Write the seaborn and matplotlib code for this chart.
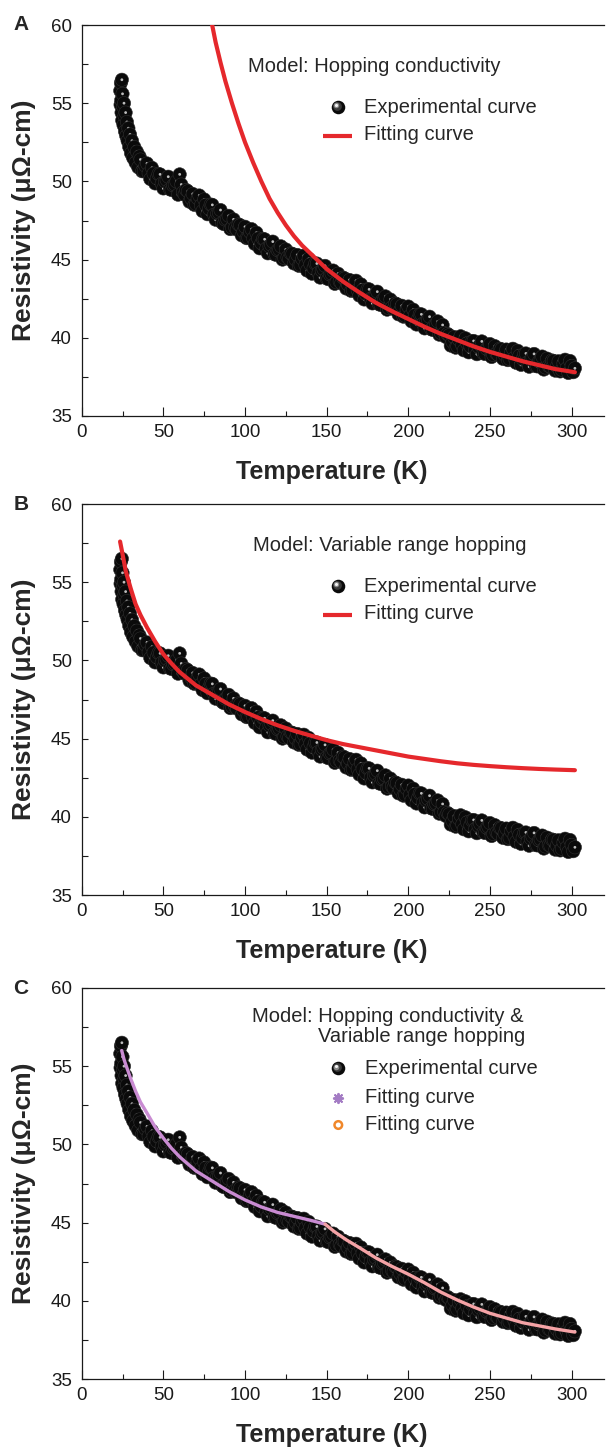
import numpy as np
import pandas as pd
import matplotlib
matplotlib.use("Agg")
import matplotlib.pyplot as plt
import seaborn as sns
from matplotlib.ticker import MultipleLocator
from matplotlib.transforms import offset_copy

# ---------------- data ----------------
# experimental points, steep low-temperature part
temp_exp_low = [23.6, 23.8, 24.0, 24.2, 24.4, 24.6, 24.8, 25.0, 25.3, 25.6, 25.9, 26.2,
                26.5, 26.9, 27.3, 27.7, 28.1, 28.6, 29.1, 29.6, 30.2, 30.8, 31.5, 32.2,
                33.0, 33.8, 34.6, 35.4]
res_exp_low = [55.8, 54.9, 56.3, 55.2, 54.4, 56.5, 53.9, 55.6, 54.8, 53.6, 55.0, 54.2,
               53.2, 54.4, 52.9, 53.8, 52.6, 53.4, 52.2, 53.0, 51.8, 52.6, 51.5, 52.2,
               51.2, 51.9, 50.9, 51.6]
# experimental points, even temperatures
temp_exp_even = [36, 38, 40, 42, 44, 46, 48, 50, 52, 54, 56, 58, 60, 62, 64, 66, 68, 70,
                 72, 74, 76, 78, 80, 82, 84, 86, 88, 90, 92, 94, 96, 98, 100, 102, 104,
                 106, 108, 110, 112, 114, 116, 118, 120, 122, 124, 126, 128, 130, 132,
                 134, 136, 138, 140, 142, 144, 146, 148, 150, 152, 154, 156, 158, 160,
                 162, 164, 166, 168, 170, 172, 174, 176, 178, 180, 182, 184, 186, 188,
                 190, 192, 194, 196, 198, 200, 202, 204, 206, 208, 210, 212, 214, 216,
                 218, 220, 222, 224, 226, 228, 230, 232, 234, 236, 238, 240, 242, 244,
                 246, 248, 250, 252, 254, 256, 258, 260, 262, 264, 266, 268, 270, 272,
                 274, 276, 278, 280, 282, 284, 286, 288, 290, 292, 294, 296, 298, 300,
                 302]
res_exp_even = [51.40, 50.65, 51.15, 50.15, 50.50, 50.20, 50.45, 49.55, 50.10, 49.50,
                49.75, 50.00, 50.45, 49.30, 49.45, 48.70, 49.20, 48.55, 49.10, 48.10,
                48.50, 48.25, 48.50, 47.55, 48.00, 47.35, 47.55, 47.80, 47.05, 47.05,
                47.25, 46.55, 47.10, 46.40, 46.95, 46.00, 46.35, 46.05, 46.30, 45.40,
                45.95, 45.35, 45.60, 45.85, 45.10, 45.15, 45.40, 44.75, 45.30, 44.65,
                45.25, 44.30, 44.70, 44.45, 44.75, 43.85, 44.40, 43.80, 44.05, 44.30,
                43.55, 43.60, 43.85, 43.15, 43.70, 43.05, 43.65, 42.70, 43.05, 42.80,
                43.10, 42.20, 42.75, 42.15, 42.40, 42.65, 41.90, 41.95, 42.20, 41.50,
                42.05, 41.40, 42.00, 41.05, 41.45, 41.20, 41.50, 40.60, 41.15, 40.55,
                40.80, 41.05, 40.30, 40.30, 40.25, 39.50, 40.05, 39.45, 40.10, 39.20,
                39.65, 39.45, 39.80, 38.95, 39.55, 39.00, 39.30, 39.60, 38.90, 39.00,
                39.30, 38.65, 39.25, 38.65, 39.30, 38.40, 38.85, 38.65, 39.00, 38.15,
                38.75, 38.20, 38.50, 38.80, 38.10, 38.20, 38.55, 37.90, 38.50, 37.95,
                38.60, 37.75, 38.20, 38.05]
# experimental points, odd temperatures
temp_exp_odd = [37, 39, 41, 43, 45, 47, 49, 51, 53, 55, 57, 59, 61, 63, 65, 67, 69, 71,
                73, 75, 77, 79, 81, 83, 85, 87, 89, 91, 93, 95, 97, 99, 101, 103, 105,
                107, 109, 111, 113, 115, 117, 119, 121, 123, 125, 127, 129, 131, 133,
                135, 137, 139, 141, 143, 145, 147, 149, 151, 153, 155, 157, 159, 161,
                163, 165, 167, 169, 171, 173, 175, 177, 179, 181, 183, 185, 187, 189,
                191, 193, 195, 197, 199, 201, 203, 205, 207, 209, 211, 213, 215, 217,
                219, 221, 223, 225, 227, 229, 231, 233, 235, 237, 239, 241, 243, 245,
                247, 249, 251, 253, 255, 257, 259, 261, 263, 265, 267, 269, 271, 273,
                275, 277, 279, 281, 283, 285, 287, 289, 291, 293, 295, 297, 299, 301]
res_exp_odd = [50.65, 51.00, 50.52, 50.87, 49.87, 50.47, 49.85, 50.00, 50.30, 49.45,
               49.80, 49.15, 49.80, 49.15, 49.37, 48.92, 48.50, 48.92, 48.47, 48.85,
               47.90, 48.52, 47.87, 47.95, 48.17, 47.27, 47.60, 46.95, 47.57, 46.92,
               47.20, 46.80, 46.37, 46.77, 46.35, 46.72, 45.72, 46.32, 45.70, 45.85,
               46.15, 45.30, 45.65, 45.00, 45.65, 45.05, 45.37, 45.00, 44.60, 45.05,
               44.65, 45.05, 44.10, 44.75, 44.15, 44.30, 44.60, 43.75, 44.10, 43.45,
               44.10, 43.50, 43.80, 43.40, 43.00, 43.45, 43.05, 43.42, 42.45, 43.10,
               42.50, 42.65, 42.95, 42.10, 42.45, 41.80, 42.45, 41.85, 42.15, 41.75,
               41.35, 41.80, 41.40, 41.80, 40.85, 41.50, 40.90, 41.05, 41.35, 40.50,
               40.85, 40.20, 40.82, 40.05, 40.17, 39.75, 39.37, 39.87, 39.52, 39.97,
               39.07, 39.77, 39.22, 39.42, 39.77, 38.97, 39.37, 38.77, 39.47, 38.92,
               39.27, 38.92, 38.57, 39.07, 38.72, 39.17, 38.27, 38.97, 38.42, 38.62,
               38.97, 38.17, 38.57, 37.97, 38.67, 38.15, 38.52, 38.17, 37.85, 38.37,
               38.05, 38.52, 37.80]

# Panel A: hopping conductivity fit
temp_fit_a = [79.5, 82, 85, 88, 92, 96, 100, 105, 110, 115, 120, 125, 130, 135, 140,
              145, 150, 160, 170, 180, 190, 200, 210, 220, 230, 240, 250, 260, 270,
              280, 290, 302]
res_fit_a = [60.2, 58.9, 57.6, 56.4, 55.0, 53.7, 52.5, 51.2, 50.0, 48.9, 48.0, 47.2,
             46.5, 45.9, 45.4, 44.9, 44.4, 43.6, 42.9, 42.25, 41.7, 41.2, 40.7, 40.25,
             39.85, 39.45, 39.1, 38.8, 38.5, 38.25, 38.0, 37.8]

# Panel B: variable range hopping fit
temp_fit_b = [23.5, 25, 27, 30, 33, 36, 40, 45, 50, 55, 60, 70, 80, 90, 100, 110, 120,
              130, 140, 150, 160, 170, 180, 190, 200, 210, 220, 230, 240, 250, 260,
              270, 280, 290, 302]
res_fit_b = [57.6, 56.8, 55.7, 54.6, 53.6, 52.9, 52.1, 51.2, 50.4, 49.8, 49.25, 48.4,
             47.8, 47.2, 46.7, 46.25, 45.85, 45.5, 45.2, 44.9, 44.65, 44.45, 44.25,
             44.05, 43.85, 43.7, 43.55, 43.42, 43.32, 43.24, 43.17, 43.11, 43.06,
             43.02, 42.98]

# Panel C: combined fit (low-T part and high-T part)
temp_fit_c1 = [24.5, 26, 28, 30, 33, 36, 40, 45, 50, 55, 60, 70, 80, 90, 100, 110,
               120, 130, 140, 149]
res_fit_c1 = [56.0, 55.4, 54.8, 54.2, 53.4, 52.7, 52.0, 51.1, 50.4, 49.75, 49.2, 48.3,
              47.65, 47.0, 46.45, 46.0, 45.65, 45.4, 45.15, 44.9]
temp_fit_c2 = [149, 155, 162, 170, 180, 190, 200, 210, 220, 230, 240, 250, 260, 270,
               280, 290, 302]
res_fit_c2 = [44.9, 44.4, 43.9, 43.4, 42.75, 42.2, 41.7, 41.15, 40.55, 40.05, 39.6,
              39.2, 38.9, 38.6, 38.4, 38.2, 38.0]

x_ticks = [0, 50, 100, 150, 200, 250, 300]
y_ticks = [35, 40, 45, 50, 55, 60]
panel_letters = ["A", "B", "C"]
model_titles = ["Model: Hopping conductivity",
                "Model: Variable range hopping",
                "Model: Hopping conductivity &"]
model_title_c2 = "Variable range hopping"
legend_exp = "Experimental curve"
legend_fit = "Fitting curve"
x_label = "Temperature (K)"
y_label = "Resistivity (\u03bc\u03a9-cm)"

# ---------------- style ----------------
sns.set_theme(style="ticks")
plt.rcParams['font.family'] = ['Liberation Sans', 'DejaVu Sans']
plt.rcParams['axes.edgecolor'] = '#1a1a1a'
plt.rcParams['xtick.color'] = '#1a1a1a'
plt.rcParams['ytick.color'] = '#1a1a1a'

RED = "#e5282c"
PURPLE = "#c98bd2"
SALMON = "#f5a3a6"
BALL = "#0a0a0a"
SHINE = "#bdbdbd"

exp_pts = pd.DataFrame({
    "T": temp_exp_low + temp_exp_even + temp_exp_odd,
    "R": res_exp_low + res_exp_even + res_exp_odd,
}).sort_values("T", kind="stable").reset_index(drop=True)

# interleaved ball/shine rows so each highlight is partly covered by the next ball
rows = []
for t, r in zip(exp_pts["T"], exp_pts["R"]):
    rows.append((t, r, "ball"))
    rows.append((t, r, "shine"))
exp_df = pd.DataFrame(rows, columns=["T", "R", "part"])

fig = plt.figure(figsize=(6.08, 14.47), dpi=100)
FW, FH = 608.0, 1447.0
ax_left, ax_w, ax_h = 81.7, 522.6, 391.0
tops = [25, 504, 988]


def sphere(ax, x, y):
    tr = ax.transAxes
    ax.scatter([x], [y], s=95, color=BALL, transform=tr, clip_on=False, zorder=5,
               linewidths=0)
    for dx, dy, s, c in [(-0.8, 0.8, 40, "#3a3a3a"), (-1.3, 1.3, 16, "#8a8a8a"),
                         (-1.6, 1.6, 5, "#f2f2f2")]:
        ax.scatter([x], [y], s=s, color=c, linewidths=0, clip_on=False, zorder=6,
                   transform=offset_copy(tr, fig=fig, x=dx, y=dy, units='points'))


for i, top in enumerate(tops):
    ax = fig.add_axes([ax_left / FW, 1 - (top + ax_h) / FH, ax_w / FW, ax_h / FH])

    sns.scatterplot(data=exp_df, x="T", y="R", hue="part", size="part",
                    palette={"ball": BALL, "shine": SHINE},
                    sizes={"ball": 92, "shine": 4}, linewidth=0, legend=False,
                    ax=ax, zorder=2)
    coll = ax.collections[-1]
    ec = ["#2e2e2e" if p == "ball" else SHINE for p in exp_df["part"]]
    lw = [0.4 if p == "ball" else 0 for p in exp_df["part"]]
    coll.set_edgecolors(ec)
    coll.set_linewidths(lw)

    if i == 0:
        sns.lineplot(x=temp_fit_a, y=res_fit_a, sort=False, estimator=None,
                     color=RED, linewidth=3.0, ax=ax, zorder=3)
    elif i == 1:
        sns.lineplot(x=temp_fit_b, y=res_fit_b, sort=False, estimator=None,
                     color=RED, linewidth=3.0, ax=ax, zorder=3)
    else:
        sns.lineplot(x=temp_fit_c1, y=res_fit_c1, sort=False, estimator=None,
                     color=PURPLE, linewidth=2.4, ax=ax, zorder=3)
        sns.lineplot(x=temp_fit_c2, y=res_fit_c2, sort=False, estimator=None,
                     color=SALMON, linewidth=2.4, ax=ax, zorder=3)

    ax.set_xlim(0, 320)
    ax.set_ylim(35, 60)
    ax.set_xticks(x_ticks)
    ax.set_yticks(y_ticks)
    ax.xaxis.set_minor_locator(MultipleLocator(25))
    ax.yaxis.set_minor_locator(MultipleLocator(2.5))
    ax.tick_params(axis='both', which='both', direction='in', top=False, right=False,
                   width=0.8, labelsize=13.5)
    ax.tick_params(axis='x', which='major', length=6.5, pad=6)
    ax.tick_params(axis='x', which='minor', length=3.5)
    ax.tick_params(axis='y', which='major', length=4.2, pad=7)
    ax.tick_params(axis='y', which='minor', length=4.0)
    ax.spines['right'].set_visible(False)
    for s in ['top', 'left', 'bottom']:
        ax.spines[s].set_linewidth(0.9)
    ax.grid(False)

    ax.set_xlabel(x_label, fontsize=18, fontweight='bold')
    ax.set_ylabel(y_label, fontsize=19, fontweight='bold')
    ax.xaxis.set_label_coords(0.478, -0.112)
    ax.yaxis.set_label_coords(-0.087, 0.5)

    ax.text(-0.116, 1.0, panel_letters[i], transform=ax.transAxes, ha='center',
            va='center', fontsize=15, fontweight='bold')

    # legend block
    fs = 14.5
    if i < 2:
        tx = 0.318 if i == 0 else 0.327
        ax.text(tx, 0.8926, model_titles[i], transform=ax.transAxes, ha='left',
                va='center', fontsize=fs)
        sphere(ax, 0.490, 0.7895)
        ax.text(0.541, 0.790, legend_exp, transform=ax.transAxes, ha='left',
                va='center', fontsize=fs)
        ax.plot([0.4622, 0.5177], [0.717, 0.717], color=RED, linewidth=3.0,
                transform=ax.transAxes, clip_on=False, solid_capstyle='butt')
        ax.text(0.541, 0.720, legend_fit, transform=ax.transAxes, ha='left',
                va='center', fontsize=fs)
    else:
        ax.text(0.3253, 0.9266, model_titles[i], transform=ax.transAxes, ha='left',
                va='center', fontsize=fs)
        ax.text(0.4527, 0.8755, model_title_c2, transform=ax.transAxes, ha='left',
                va='center', fontsize=fs)
        sphere(ax, 0.491, 0.7946)
        ax.text(0.542, 0.7946, legend_exp, transform=ax.transAxes, ha='left',
                va='center', fontsize=fs)
        ax.scatter([0.491], [0.718], marker=(8, 2, 0), s=45, color="#a47cc4",
                   linewidths=1.4, transform=ax.transAxes, clip_on=False)
        ax.text(0.542, 0.720, legend_fit, transform=ax.transAxes, ha='left',
                va='center', fontsize=fs)
        ax.scatter([0.491], [0.6496], marker='o', s=30, facecolors='none',
                   edgecolors="#f0872a", linewidths=1.8, transform=ax.transAxes,
                   clip_on=False)
        ax.text(0.542, 0.652, legend_fit, transform=ax.transAxes, ha='left',
                va='center', fontsize=fs)

fig.savefig("out.png", dpi=100)
